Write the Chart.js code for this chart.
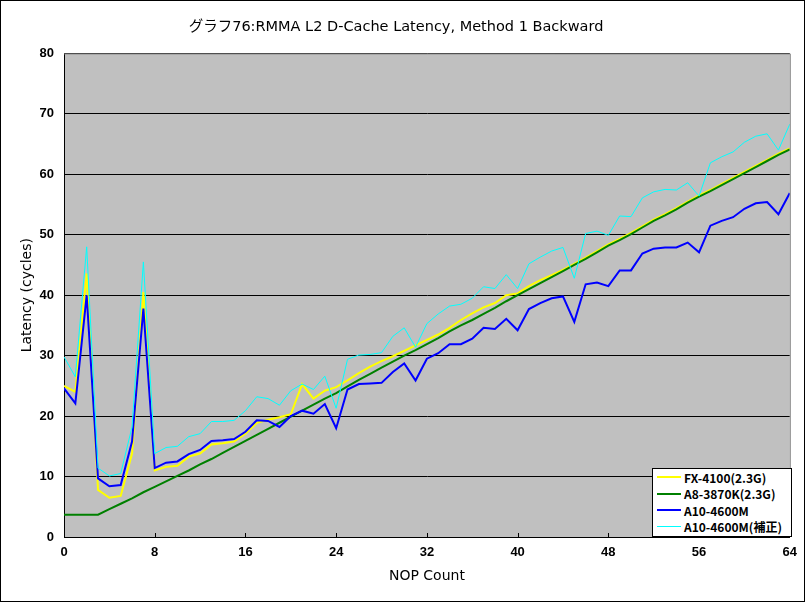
<!DOCTYPE html>
<html>
<head>
<meta charset="utf-8">
<script src="https://cdn.jsdelivr.net/npm/chart.js@4/dist/chart.umd.min.js"></script>
<style>
  body{margin:0;background:#fff;}
  #wrap{position:relative;width:805px;height:602px;}
  #legend{position:absolute;left:652px;top:468px;width:138px;height:67px;background:#fff;border:1px solid #000;
    font:bold 12px "Liberation Sans",Arial,sans-serif;color:#000;}
  #legend div{height:16.5px;display:flex;align-items:center;padding-left:4px;}
  #legend span.sw{display:inline-block;width:24px;height:2px;margin-right:3px;}
  #legend span.tx{font-family:"Noto Sans CJK JP","Liberation Sans",sans-serif;font-size:12px;}
</style>
</head>
<body>
<div id="wrap">
  <canvas id="c" width="805" height="602"></canvas>
  <div id="legend"></div>
</div>
<script>
// NOP count (x)
const nop = [0,1,2,3,4,5,6,7,8,9,10,11,12,13,14,15,16,17,18,19,20,21,22,23,24,25,26,27,28,29,30,31,32,
  33,34,35,36,37,38,39,40,41,42,43,44,45,46,47,48,49,50,51,52,53,54,55,56,57,58,59,60,61,62,63,64];
const fx4100 = [25.0,24.0,43.6,7.8,6.5,6.8,13.8,40.5,11.0,11.6,11.8,13.3,13.8,15.3,15.5,15.8,17.1,18.9,19.4,19.8,
  20.3,25.3,22.9,24.2,24.8,25.9,27.1,28.2,29.1,29.9,30.8,31.7,32.6,33.5,34.6,35.9,37.0,38.0,38.7,40.0,
  40.3,41.5,42.5,43.3,44.2,45.2,46.2,47.3,48.4,49.3,50.3,51.4,52.5,53.4,54.4,55.5,56.5,57.4,58.4,59.4,
  60.4,61.4,62.4,63.4,64.3];
const a8 = [3.7,3.7,3.7,3.7,4.6,5.5,6.4,7.4,8.3,9.2,10.1,11.0,12.0,12.9,13.9,14.9,15.9,16.9,17.9,18.9,
  19.9,20.9,21.9,22.9,23.8,24.9,26.0,27.0,28.0,29.0,30.0,30.9,31.9,32.9,34.0,35.0,35.9,36.9,37.9,39.0,
  40.0,41.0,42.0,43.0,44.0,45.0,46.0,47.1,48.2,49.1,50.1,51.2,52.3,53.2,54.2,55.3,56.3,57.2,58.2,59.2,
  60.2,61.2,62.2,63.2,64.1];
const a10 = [24.6,22.1,40.0,9.7,8.4,8.6,15.8,37.8,11.4,12.3,12.5,13.7,14.4,15.9,16.0,16.2,17.4,19.3,19.2,18.2,
  20.0,20.9,20.4,22.0,18.0,24.4,25.3,25.4,25.5,27.3,28.7,25.9,29.5,30.4,31.9,31.9,32.8,34.6,34.4,36.1,
  34.2,37.7,38.7,39.5,39.8,35.6,41.8,42.1,41.5,44.1,44.1,46.9,47.7,47.9,47.9,48.7,47.1,51.5,52.3,52.9,
  54.3,55.2,55.4,53.4,56.9];
const a10fix = [29.8,26.5,48.0,11.4,10.1,10.5,18.2,45.5,13.8,14.8,15.0,16.6,17.1,19.1,19.1,19.3,20.9,23.2,22.9,21.8,
  24.2,25.3,24.4,26.6,21.3,29.4,30.1,30.2,30.5,33.2,34.6,31.4,35.3,36.9,38.2,38.5,39.5,41.4,41.1,43.4,
  41.1,45.2,46.3,47.3,47.9,42.8,50.2,50.6,49.9,53.1,53.0,56.1,57.1,57.5,57.4,58.6,56.4,61.9,62.9,63.7,
  65.3,66.3,66.7,64.0,68.3];
const seriesNames = ['FX-4100(2.3G)','A8-3870K(2.3G)','A10-4600M','A10-4600M(補正)'];
const seriesColors = ['#FFFF00','#008000','#0000FF','#00FFFF'];
const seriesWidths = [2,2,2,1];
const seriesData = [fx4100, a8, a10, a10fix];

const pts = arr => nop.map((n,i)=>({x:n, y:arr[i]}));
// reversed so the last series is painted on top (Excel order)
const datasets = seriesData.map((arr,i)=>({
  label: seriesNames[i], data: pts(arr), borderColor: seriesColors[i], backgroundColor: seriesColors[i],
  borderWidth: seriesWidths[i], pointRadius: 0, tension: 0, fill: false
})).reverse();

const frame = {
  id: 'frame',
  beforeDraw(chart){
    const {ctx, chartArea:a} = chart;
    ctx.save();
    ctx.fillStyle = '#C0C0C0';
    ctx.fillRect(a.left, a.top, a.right-a.left, a.bottom-a.top);
    ctx.restore();
  },
  afterDraw(chart){
    const {ctx, chartArea:a, scales} = chart;
    ctx.save();
    ctx.strokeStyle = '#808080'; ctx.lineWidth = 1;
    ctx.beginPath();
    ctx.moveTo(a.left, a.top+0.5); ctx.lineTo(a.right+0.5, a.top+0.5); ctx.lineTo(a.right+0.5, a.bottom);
    ctx.stroke();
    // x tick marks pointing up into the plot
    ctx.strokeStyle = '#000';
    ctx.beginPath();
    scales.x.ticks.forEach(t=>{
      const px = Math.round(scales.x.getPixelForValue(t.value))+0.5;
      ctx.moveTo(px, a.bottom); ctx.lineTo(px, a.bottom-4);
    });
    ctx.stroke();
    ctx.strokeStyle = '#000';
    ctx.strokeRect(0.5, 0.5, chart.width-1, chart.height-1);
    ctx.restore();
  }
};

const tickFont = {family:'"Liberation Sans", Arial, sans-serif', size:13, weight:'bold'};
const labelFont = {family:'"DejaVu Sans", "Noto Sans CJK JP", sans-serif', size: 14};
new Chart(document.getElementById('c'), {
  type: 'line',
  data: { datasets },
  options: {
    responsive: false, animation: false,
    layout: { padding: { left: 0, right: 13, top: 0, bottom: 0 } },
    plugins: {
      legend: { display: false },
      tooltip: { enabled: false },
      title: { display: true, text: 'グラフ76:RMMA L2 D-Cache Latency, Method 1 Backward', color: '#000',
        font: {family:'"DejaVu Sans", "Noto Sans CJK JP", sans-serif', size: 14.5, weight: 'normal', lineHeight: 1.2}, padding: {top: 19, bottom: 17} }
    },
    scales: {
      x: {
        type: 'linear', min: 0, max: 64,
        ticks: { stepSize: 8, color: '#000', font: tickFont, padding: 8, maxRotation: 0 },
        grid: { display: false, drawTicks: false },
        border: { display: true, color: '#000', width: 1 },
        title: { display: true, text: 'NOP Count', color: '#000', font: labelFont, padding: {top: 0, bottom: 17} },
        afterFit(s){ s.height = 65; }
      },
      y: {
        min: 0, max: 80,
        ticks: { stepSize: 10, color: '#000', font: tickFont, padding: 10 },
        grid: { color: '#000', lineWidth: 1, drawTicks: false },
        border: { display: true, color: '#000', width: 1 },
        title: { display: true, text: 'Latency (cycles)', color: '#000', font: labelFont, padding: {top: 19, bottom: 0} },
        afterFit(s){ s.width = 64; }
      }
    }
  },
  plugins: [frame]
});

// HTML legend built from the series arrays
document.getElementById('legend').innerHTML = seriesNames.map((n,i)=>
  `<div><span class="sw" style="background:${seriesColors[i]};height:${seriesWidths[i]}px"></span><span class="tx">${n}</span></div>`).join('');
</script>
</body>
</html>
